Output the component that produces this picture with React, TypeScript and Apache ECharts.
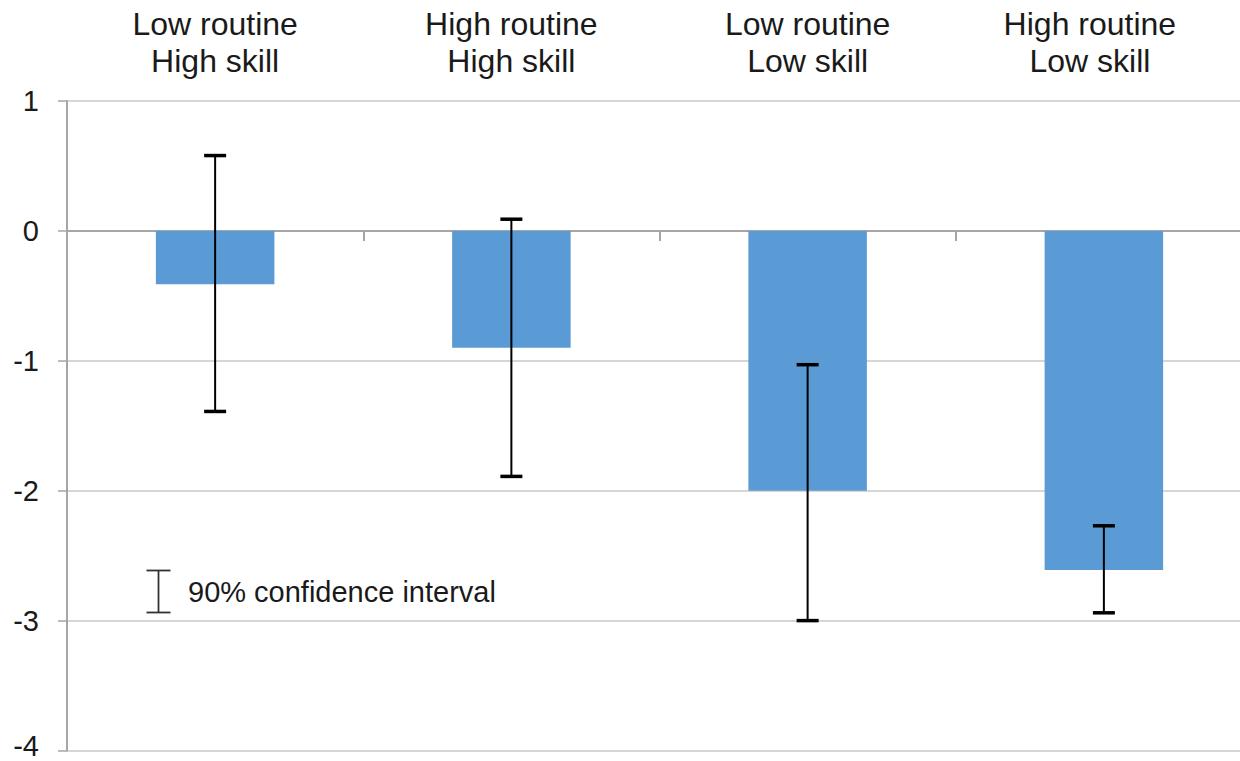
import React, { useEffect, useRef } from "react";
import * as echarts from "echarts";

const categories = [
  "Low routine\nHigh skill",
  "High routine\nHigh skill",
  "Low routine\nLow skill",
  "High routine\nLow skill",
];
const values = [-0.41, -0.9, -2.0, -2.61];
const ciHigh = [0.58, 0.09, -1.03, -2.27];
const ciLow = [-1.39, -1.89, -3.0, -2.94];
const legendText = "90% confidence interval";

const FONT = "'Liberation Sans', Arial, sans-serif";

export default function App() {
  const ref = useRef<HTMLDivElement>(null);
  useEffect(() => {
    document.body.style.margin = "0";
    const chart = echarts.init(ref.current!, null, { renderer: "svg" });
    const errData = categories.map((_, i) => [i, ciLow[i], ciHigh[i]]);
    chart.setOption({
      animation: false,
      backgroundColor: "#ffffff",
      grid: {
        left: 67,
        top: 101,
        bottom: 10.5,
        right: -12,
        containLabel: false,
        outerBoundsMode: "none",
      },
      xAxis: [
        {
          type: "category",
          data: categories,
          position: "bottom",
          axisLine: { onZero: true, lineStyle: { color: "#a6a6a6", width: 2 } },
          axisTick: { show: true, length: 10, lineStyle: { color: "#a6a6a6", width: 2 } },
          axisLabel: { show: false },
          splitLine: { show: false },
        },
        {
          type: "category",
          data: categories,
          position: "top",
          axisLine: { show: false, onZero: false },
          axisTick: { show: false },
          splitLine: { show: false },
          axisLabel: {
            show: true,
            interval: 0,
            hideOverlap: false,
            margin: 22,
            fontSize: 32,
            lineHeight: 37,
            color: "#1a1a1a",
            fontFamily: FONT,
            formatter: (v: string, idx: number) =>
              idx === 3 ? `{last|${v}}` : `{n|${v}}`,
            rich: {
              n: { fontSize: 32, lineHeight: 37, color: "#1a1a1a", fontFamily: FONT },
              last: {
                fontSize: 32,
                lineHeight: 37,
                color: "#1a1a1a",
                fontFamily: FONT,
                padding: [0, 28, 0, 0],
              },
            },
          },
        },
      ],
      yAxis: {
        type: "value",
        min: -4,
        max: 1,
        interval: 1,
        axisLine: { show: true, lineStyle: { color: "#a6a6a6", width: 2 } },
        axisTick: { show: true, length: 9, lineStyle: { color: "#a6a6a6", width: 1.5 } },
        splitLine: { show: true, lineStyle: { color: "#c8c8c8", width: 1.5 } },
        axisLabel: {
          fontSize: 29,
          color: "#1a1a1a",
          margin: 28,
          fontFamily: FONT,
          formatter: (v: number) => (v === -4 ? `{low|${v}}` : `{n|${v}}`),
          rich: {
            n: { fontSize: 29, color: "#1a1a1a", fontFamily: FONT },
            low: { fontSize: 29, color: "#1a1a1a", fontFamily: FONT, padding: [0, 0, 9, 0] },
          },
        },
      },
      series: [
        {
          type: "bar",
          xAxisIndex: 0,
          data: values,
          barWidth: "40%",
          itemStyle: { color: "#5b9bd5" },
        },
        {
          type: "custom",
          xAxisIndex: 0,
          data: errData,
          encode: { x: 0, y: [1, 2] },
          z: 10,
          renderItem: (params: any, api: any) => {
            const x = api.value(0);
            const lo = api.coord([x, api.value(1)]);
            const hi = api.coord([x, api.value(2)]);
            const hw = 11;
            const st = { stroke: "#000000", lineWidth: 2 };
            const cap = { stroke: "#000000", lineWidth: 3.5 };
            return {
              type: "group",
              children: [
                { type: "line", shape: { x1: lo[0], y1: lo[1], x2: hi[0], y2: hi[1] }, style: st },
                { type: "line", shape: { x1: hi[0] - hw, y1: hi[1], x2: hi[0] + hw, y2: hi[1] }, style: cap },
                { type: "line", shape: { x1: lo[0] - hw, y1: lo[1], x2: lo[0] + hw, y2: lo[1] }, style: cap },
              ],
            };
          },
        },
      ],
      graphic: [
        {
          type: "group",
          left: 144,
          top: 568,
          children: [
            { type: "line", shape: { x1: 12, y1: 0, x2: 12, y2: 42 }, style: { stroke: "#333333", lineWidth: 1.8 } },
            { type: "line", shape: { x1: 0, y1: 0, x2: 24, y2: 0 }, style: { stroke: "#333333", lineWidth: 1.8 } },
            { type: "line", shape: { x1: 0, y1: 42, x2: 24, y2: 42 }, style: { stroke: "#333333", lineWidth: 1.8 } },
          ],
        },
        {
          type: "text",
          left: 188,
          top: 577,
          style: {
            text: legendText,
            fontSize: 29,
            fontFamily: FONT,
            fill: "#1a1a1a",
          },
        },
      ],
    });
    return () => chart.dispose();
  }, []);
  return <div ref={ref} style={{ width: 1240, height: 761 }} />;
}
